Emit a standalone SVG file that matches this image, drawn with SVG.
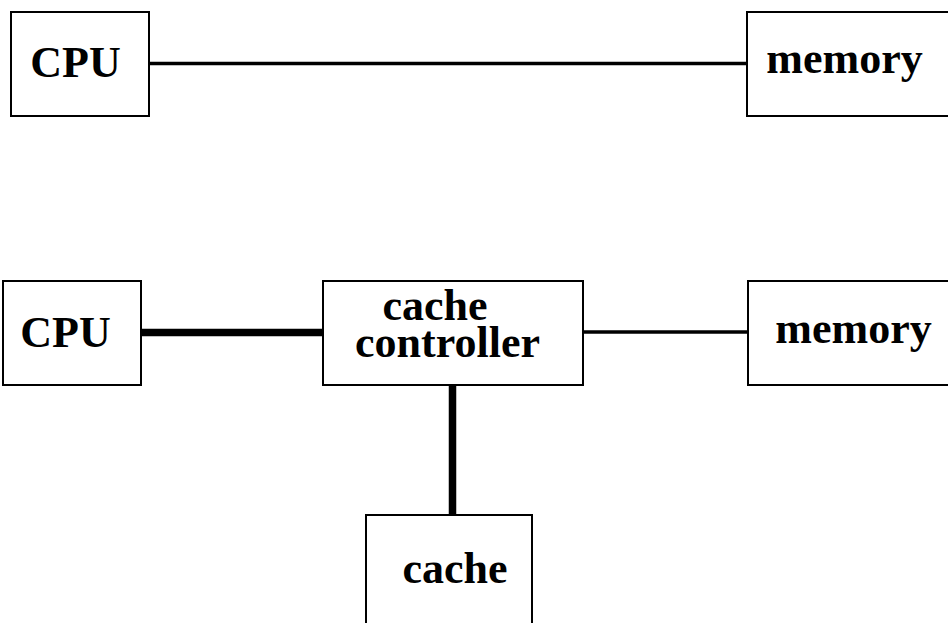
<svg xmlns="http://www.w3.org/2000/svg" width="948" height="623" viewBox="0 0 948 623">
<style>
.box{fill:#fff;stroke:#000;stroke-width:2}
.lbl{font-family:"Liberation Serif","Times New Roman",serif;font-weight:bold;font-size:44px;fill:#000;text-anchor:middle}
.thin{stroke:#000;stroke-width:3.5;fill:none}
.thick{stroke:#000;stroke-width:7.5;fill:none}
</style>
<rect width="948" height="623" fill="#fff"/>
<g id="connectors">
<line class="thin" x1="149" y1="63.5" x2="747" y2="63.5"/>
<line class="thick" x1="141" y1="332.5" x2="323" y2="332.5"/>
<line class="thin" x1="583" y1="332" x2="748" y2="332"/>
<line class="thick" x1="452.5" y1="385" x2="452.5" y2="515"/>
</g>
<g id="cpu1">
<rect class="box" x="11" y="12" width="138" height="104"/>
<text class="lbl" x="75.5" y="77">CPU</text>
</g>
<g id="memory1">
<rect class="box" x="747" y="12" width="220" height="104"/>
<text class="lbl" x="844.5" y="73">memory</text>
</g>
<g id="cpu2">
<rect class="box" x="3" y="281" width="138" height="104"/>
<text class="lbl" x="65.5" y="347">CPU</text>
</g>
<g id="cachecontroller">
<rect class="box" x="323" y="281" width="260" height="104"/>
<text class="lbl"><tspan x="435" y="320">cache</tspan><tspan x="447.5" y="357">controller</tspan></text>
</g>
<g id="memory2">
<rect class="box" x="748" y="281" width="220" height="104"/>
<text class="lbl" x="853.5" y="343">memory</text>
</g>
<g id="cache">
<rect class="box" x="366" y="515" width="166" height="130"/>
<text class="lbl" x="455" y="583">cache</text>
</g>
</svg>
